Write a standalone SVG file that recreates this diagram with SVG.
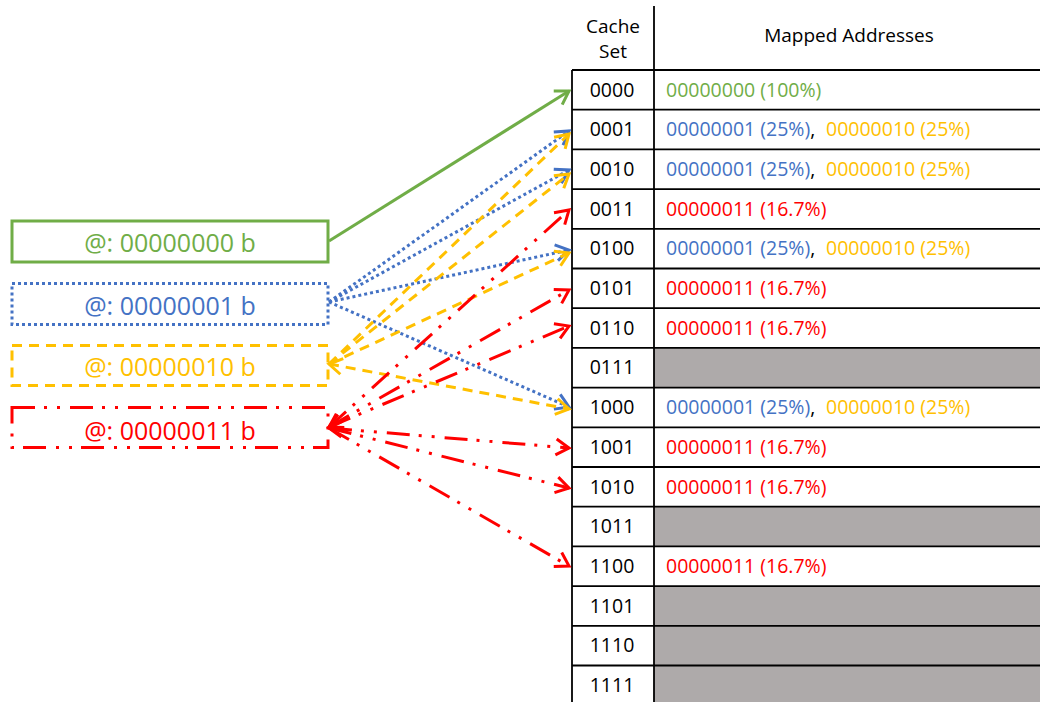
<svg xmlns="http://www.w3.org/2000/svg" width="1040" height="702" viewBox="0 0 1040 702">
  <style>
    .t { font-family: "Open Sans", "Liberation Sans", sans-serif; }
    .cell { font-size: 19.5px; fill: #000; }
    .hdr { font-size: 19px; fill: #000; }
    .addr { font-size: 25px; }
    .grid { stroke: #000; stroke-width: 1.8; fill: none; }
    .gray { fill: #AEAAAA; }
    .g { fill: #70AD47; } .b { fill: #4472C4; } .y { fill: #FFC000; } .r { fill: #FF0000; }
    .ln { fill: none; stroke-width: 3; }
    .lg { stroke: #70AD47; }
    .lb { stroke: #4472C4; stroke-dasharray: 3 3; }
    .ly { stroke: #FFC000; stroke-dasharray: 10 7; }
    .lr { stroke: #FF0000; stroke-dasharray: 23 9 3 10 3 10; }
  </style>
  <defs>
    <marker id="ah-g" markerUnits="userSpaceOnUse" markerWidth="18" markerHeight="20" refX="15" refY="10" orient="auto-start-reverse">
      <path d="M2,2 L15,10 L2,18" fill="none" stroke="#70AD47" stroke-width="3"/>
    </marker>
    <marker id="ah-b" markerUnits="userSpaceOnUse" markerWidth="18" markerHeight="20" refX="15" refY="10" orient="auto-start-reverse">
      <path d="M2,2 L15,10 L2,18" fill="none" stroke="#4472C4" stroke-width="3"/>
    </marker>
    <marker id="ah-y" markerUnits="userSpaceOnUse" markerWidth="18" markerHeight="20" refX="15" refY="10" orient="auto-start-reverse">
      <path d="M2,2 L15,10 L2,18" fill="none" stroke="#FFC000" stroke-width="3"/>
    </marker>
    <marker id="ah-r" markerUnits="userSpaceOnUse" markerWidth="18" markerHeight="20" refX="15" refY="10" orient="auto-start-reverse">
      <path d="M2,2 L15,10 L2,18" fill="none" stroke="#FF0000" stroke-width="3"/>
    </marker>
  </defs>

  <rect width="1040" height="702" fill="#fff"/>

  <!-- cache set table -->
  <g id="cache-table">
    <g class="gray">
      <rect x="654" y="347.9" width="386" height="39.7"/>
      <rect x="654" y="506.7" width="386" height="39.7"/>
      <rect x="654" y="586.1" width="386" height="118"/>
    </g>
    <g class="grid">
      <line x1="654" y1="6" x2="654" y2="702"/>
      <line x1="572" y1="70" x2="572" y2="702"/>
      <line x1="572" y1="70" x2="1040" y2="70"/>
      <line x1="572" y1="109.7" x2="1040" y2="109.7"/>
      <line x1="572" y1="149.4" x2="1040" y2="149.4"/>
      <line x1="572" y1="189.1" x2="1040" y2="189.1"/>
      <line x1="572" y1="228.8" x2="1040" y2="228.8"/>
      <line x1="572" y1="268.5" x2="1040" y2="268.5"/>
      <line x1="572" y1="308.2" x2="1040" y2="308.2"/>
      <line x1="572" y1="347.9" x2="1040" y2="347.9"/>
      <line x1="572" y1="387.6" x2="1040" y2="387.6"/>
      <line x1="572" y1="427.3" x2="1040" y2="427.3"/>
      <line x1="572" y1="467" x2="1040" y2="467"/>
      <line x1="572" y1="506.7" x2="1040" y2="506.7"/>
      <line x1="572" y1="546.4" x2="1040" y2="546.4"/>
      <line x1="572" y1="586.1" x2="1040" y2="586.1"/>
      <line x1="572" y1="625.8" x2="1040" y2="625.8"/>
      <line x1="572" y1="665.5" x2="1040" y2="665.5"/>
    </g>

    <g class="t hdr" text-anchor="middle">
      <text x="613" y="33">Cache</text>
      <text x="613" y="58">Set</text>
      <text x="849" y="42">Mapped Addresses</text>
    </g>

    <g class="t cell" text-anchor="middle">
      <text x="612" y="96.5">0000</text>
      <text x="612" y="136.2">0001</text>
      <text x="612" y="175.9">0010</text>
      <text x="612" y="215.6">0011</text>
      <text x="612" y="255.3">0100</text>
      <text x="612" y="295">0101</text>
      <text x="612" y="334.7">0110</text>
      <text x="612" y="374.4">0111</text>
      <text x="612" y="414.1">1000</text>
      <text x="612" y="453.8">1001</text>
      <text x="612" y="493.5">1010</text>
      <text x="612" y="533.2">1011</text>
      <text x="612" y="572.9">1100</text>
      <text x="612" y="612.6">1101</text>
      <text x="612" y="652.3">1110</text>
      <text x="612" y="692">1111</text>
    </g>

    <g class="t cell">
      <text x="666" y="96.5" class="g">00000000 (100%)</text>
      <text x="666" y="136.2"><tspan class="b">00000001 (25%)</tspan><tspan>,</tspan><tspan x="826" class="y">00000010 (25%)</tspan></text>
      <text x="666" y="175.9"><tspan class="b">00000001 (25%)</tspan><tspan>,</tspan><tspan x="826" class="y">00000010 (25%)</tspan></text>
      <text x="666" y="215.6" class="r">00000011 (16.7%)</text>
      <text x="666" y="255.3"><tspan class="b">00000001 (25%)</tspan><tspan>,</tspan><tspan x="826" class="y">00000010 (25%)</tspan></text>
      <text x="666" y="295" class="r">00000011 (16.7%)</text>
      <text x="666" y="334.7" class="r">00000011 (16.7%)</text>
      <text x="666" y="414.1"><tspan class="b">00000001 (25%)</tspan><tspan>,</tspan><tspan x="826" class="y">00000010 (25%)</tspan></text>
      <text x="666" y="453.8" class="r">00000011 (16.7%)</text>
      <text x="666" y="493.5" class="r">00000011 (16.7%)</text>
      <text x="666" y="572.9" class="r">00000011 (16.7%)</text>
    </g>
  </g>

  <!-- address boxes -->
  <g id="addr-00000000">
    <rect x="12" y="221" width="316" height="41" fill="#fff" stroke="#70AD47" stroke-width="3"/>
    <text x="170" y="252" text-anchor="middle" class="t addr g">@: 00000000 b</text>
  </g>
  <g id="addr-00000001">
    <rect x="12" y="283.5" width="316" height="41" fill="#fff" stroke="#4472C4" stroke-width="3" stroke-dasharray="3 3"/>
    <text x="170" y="315" text-anchor="middle" class="t addr b">@: 00000001 b</text>
  </g>
  <g id="addr-00000010">
    <rect x="12" y="345.5" width="316" height="40" fill="#fff" stroke="#FFC000" stroke-width="3" stroke-dasharray="10 7"/>
    <text x="170" y="376" text-anchor="middle" class="t addr y">@: 00000010 b</text>
  </g>
  <g id="addr-00000011">
    <rect x="12" y="407.5" width="316" height="40" fill="#fff" stroke="#FF0000" stroke-width="3" stroke-dasharray="23 9 3 10 3 10"/>
    <text x="170" y="439.5" text-anchor="middle" class="t addr r">@: 00000011 b</text>
  </g>

  <!-- mapping connectors -->
  <g id="connectors">
    <line class="ln lg" x1="329" y1="241" x2="569" y2="91" marker-end="url(#ah-g)"/>

    <line class="ln lb" x1="329" y1="302" x2="569" y2="131" marker-end="url(#ah-b)"/>
    <line class="ln lb" x1="329" y1="302" x2="569" y2="170" marker-end="url(#ah-b)"/>
    <line class="ln lb" x1="329" y1="302" x2="569" y2="250" marker-end="url(#ah-b)"/>
    <line class="ln lb" x1="329" y1="302" x2="569" y2="407" marker-end="url(#ah-b)"/>

    <line class="ln ly" x1="329" y1="364" x2="569" y2="134" marker-end="url(#ah-y)"/>
    <line class="ln ly" x1="329" y1="364" x2="569" y2="174" marker-end="url(#ah-y)"/>
    <line class="ln ly" x1="329" y1="364" x2="569" y2="253" marker-end="url(#ah-y)"/>
    <line class="ln ly" x1="329" y1="364" x2="569" y2="409" marker-start="url(#ah-y)" marker-end="url(#ah-y)"/>

    <line class="ln lr" x1="329" y1="427" x2="569" y2="210" marker-end="url(#ah-r)"/>
    <line class="ln lr" x1="329" y1="427" x2="569" y2="290" marker-start="url(#ah-r)" marker-end="url(#ah-r)"/>
    <line class="ln lr" x1="329" y1="427" x2="569" y2="326" marker-start="url(#ah-r)" marker-end="url(#ah-r)"/>
    <line class="ln lr" x1="329" y1="428" x2="569" y2="448" marker-start="url(#ah-r)" marker-end="url(#ah-r)"/>
    <line class="ln lr" x1="329" y1="428" x2="569" y2="488" marker-end="url(#ah-r)"/>
    <line class="ln lr" x1="329" y1="428" x2="569" y2="566" marker-end="url(#ah-r)"/>
  </g>
</svg>
